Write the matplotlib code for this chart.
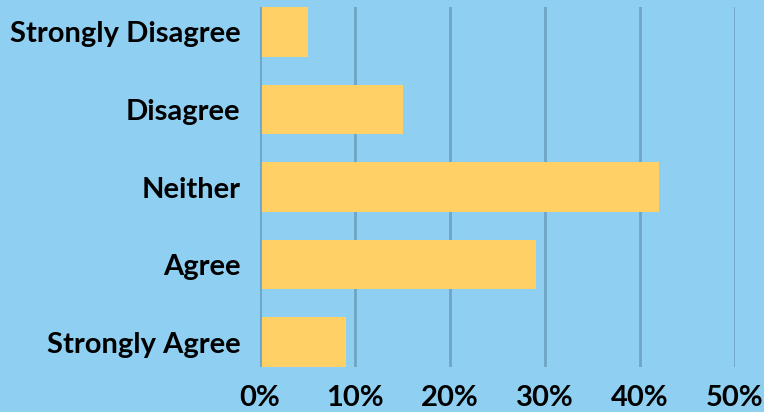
import matplotlib
matplotlib.use("Agg")
import matplotlib.pyplot as plt
from matplotlib.ticker import FuncFormatter

categories = ["Strongly Disagree", "Disagree", "Neither", "Agree", "Strongly Agree"]
values = [5, 15, 42, 29, 9]
xticks = [0, 10, 20, 30, 40, 50]

bg = "#8ecff2"
bar_color = "#ffd066"
grid_color = "#6fa5c4"

plt.rcParams['font.family'] = ['Lato', 'DejaVu Sans']

fig = plt.figure(figsize=(7.64, 4.12), dpi=100, facecolor=bg)
ax = fig.add_axes([260/764, 1-367/412, 475/764, 360/412])
ax.set_facecolor(bg)

y = list(range(len(categories)))
ax.barh(y, values, height=0.64, color=bar_color, zorder=3)
ax.set_ylim(len(categories) - 1 + 0.32, -0.32)
ax.set_xlim(0, 50)
ax.set_xticks(xticks)
ax.xaxis.set_major_formatter(FuncFormatter(lambda v, p: f"{int(v)}%"))
ax.set_yticks(y)
ax.set_yticklabels(categories)
for xv in xticks:
    ax.axvline(xv, color=grid_color, lw=2, zorder=2 if xv else 4)
for s in ax.spines.values():
    s.set_visible(False)
ax.tick_params(axis='both', length=0)
ax.tick_params(axis='y', pad=14, labelsize=21)
ax.tick_params(axis='x', pad=13, labelsize=21)
for lab in ax.get_xticklabels() + ax.get_yticklabels():
    lab.set_fontweight('bold')

fig.savefig("out.png", dpi=100, facecolor=bg)
